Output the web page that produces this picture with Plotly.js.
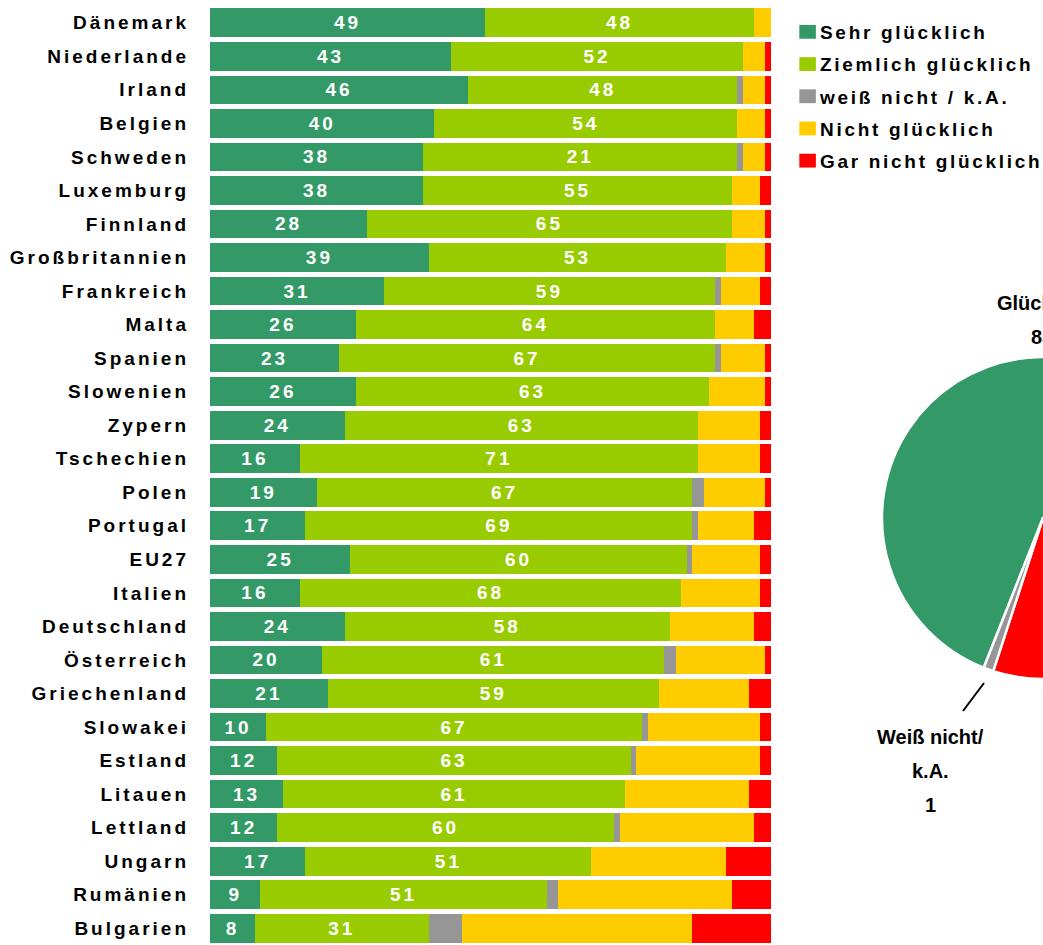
<!DOCTYPE html>
<html><head><meta charset="utf-8">
<script src="https://cdn.plot.ly/plotly-3.0.1.min.js"></script>
<style>
html,body{margin:0;padding:0;overflow:hidden;background:#fff;width:1043px;height:945px}
#chart{width:1213px;height:945px}
g.ytick text{letter-spacing:3px}
.legendtext{letter-spacing:2.7px}
g.legendpoints{transform:scale(1.38,1.15)}
text.bartext{letter-spacing:3px}
</style></head><body><div id="chart"></div>
<script>
// ---- data ----
const countries = ['Dänemark','Niederlande','Irland','Belgien','Schweden','Luxemburg','Finnland','Großbritannien','Frankreich','Malta','Spanien','Slowenien','Zypern','Tschechien','Polen','Portugal','EU27','Italien','Deutschland','Österreich','Griechenland','Slowakei','Estland','Litauen','Lettland','Ungarn','Rumänien','Bulgarien'];
const sehr      = [49,43,46,40,38,38,28,39,31,26,23,26,24,16,19,17,25,16,24,20,21,10,12,13,12,17,9,8];
const ziemlich  = [48,52,48,54,56,55,65,53,59,64,67,63,63,71,67,69,60,68,58,61,59,67,63,61,60,51,51,31];
const ziemlichLabels = ['48','52','48','54','21','55','65','53','59','64','67','63','63','71','67','69','60','68','58','61','59','67','63','61','60','51','51','31'];
const weissNicht = [0,0,1,0,1,0,0,0,1,0,1,0,0,0,2,1,1,0,0,2,0,1,1,0,1,0,2,6];
const nicht      = [3,4,4,5,4,5,6,7,7,7,8,10,11,11,11,10,12,14,15,16,16,20,22,22,24,24,31,41];
const garNicht   = [0,1,1,1,1,2,1,1,2,3,1,1,2,2,1,3,2,2,3,1,4,2,2,4,3,8,7,14];
const seriesNames = ['Sehr glücklich','Ziemlich glücklich','weiß nicht / k.A.','Nicht glücklich','Gar nicht glücklich'];
const seriesColors = ['#339966','#99CC00','#969696','#FFCC00','#FF0000'];
const pieLabels = ['Glücklich','Nicht glücklich','Weiß nicht/|k.A.'];
const pieValues = [85,14,1];
const pieColors = ['#339966','#FF0000','#969696'];

// ---- figure ----
const W = 1213, H = 945;
const FONT = 'Arial, "Liberation Sans", sans-serif';
const seriesData = [sehr, ziemlich, weissNicht, nicht, garNicht];
const seriesText = [sehr.map(String), ziemlichLabels, null, null, null];

const traces = seriesData.map((vals, i) => ({
  type: 'bar', orientation: 'h',
  x: vals, y: countries,
  name: seriesNames[i],
  legendgroup: 'g' + i,
  marker: {color: seriesColors[i], line: {width: 0}},
  text: seriesText[i] || undefined,
  textposition: seriesText[i] ? 'inside' : 'none',
  insidetextanchor: 'middle',
  textangle: 0,
  constraintext: 'none',
  textfont: {family: FONT, size: 19, weight: 'bold', color: '#ffffff'},
  hoverinfo: 'name+x+y',
  xaxis: 'x', yaxis: 'y'
}));

traces.push({
  type: 'pie',
  labels: pieLabels.map(s => s.replace('|', ' ')), values: pieValues,
  marker: {colors: pieColors, line: {color: '#ffffff', width: 2.5}},
  sort: false, direction: 'clockwise', rotation: 201.6,
  textinfo: 'none', showlegend: false,
  domain: {x: [(1043 - 161) / W, (1043 + 161) / W], y: [(H - 518 - 161) / H, (H - 518 + 161) / H]}
});

const annFont = {family: FONT, size: 20, weight: 'bold', color: '#000000'};
function ann(text, px, py) {
  return {text: text, x: px / W, y: 1 - py / H, xref: 'paper', yref: 'paper', showarrow: false,
          xanchor: 'center', yanchor: 'middle', font: annFont};
}
const kaParts = pieLabels[2].split('|');
const annotations = [
  ann(pieLabels[0], 1042, 303),
  ann(String(pieValues[0]), 1042, 337),
  ann(kaParts[0], 930, 737),
  ann(kaParts[1], 930, 771),
  ann(String(pieValues[2]), 930, 805)
];

const layout = {
  width: W, height: H,
  margin: {l: 0, r: 0, t: 0, b: 0},
  paper_bgcolor: '#ffffff', plot_bgcolor: '#ffffff',
  barmode: 'stack', bargap: 0.145,
  xaxis: {domain: [210 / W, 771 / W], range: [0, 100], visible: false, fixedrange: true},
  yaxis: {domain: [0, 1 - 6 / H], type: 'category', autorange: 'reversed',
          tickfont: {family: FONT, size: 19, weight: 'bold', color: '#000000'},
          ticks: '', ticklabelstandoff: 20, showgrid: false, showline: false, zeroline: false, fixedrange: true},
  showlegend: true,
  legend: {x: 780 / W, xanchor: 'left', y: 1 - 13 / H, yanchor: 'top', traceorder: 'grouped',
           tracegroupgap: 4.5, font: {family: FONT, size: 19, weight: 'bold', color: '#000000'},
           bgcolor: 'rgba(0,0,0,0)', borderwidth: 0},
  annotations: annotations,
  shapes: [{type: 'line', xref: 'paper', yref: 'paper', x0: 984 / W, y0: 1 - 683 / H, x1: 963 / W, y1: 1 - 711 / H,
            line: {color: '#000000', width: 2}}]
};

Plotly.newPlot('chart', traces, layout, {displayModeBar: false});
</script></body></html>
